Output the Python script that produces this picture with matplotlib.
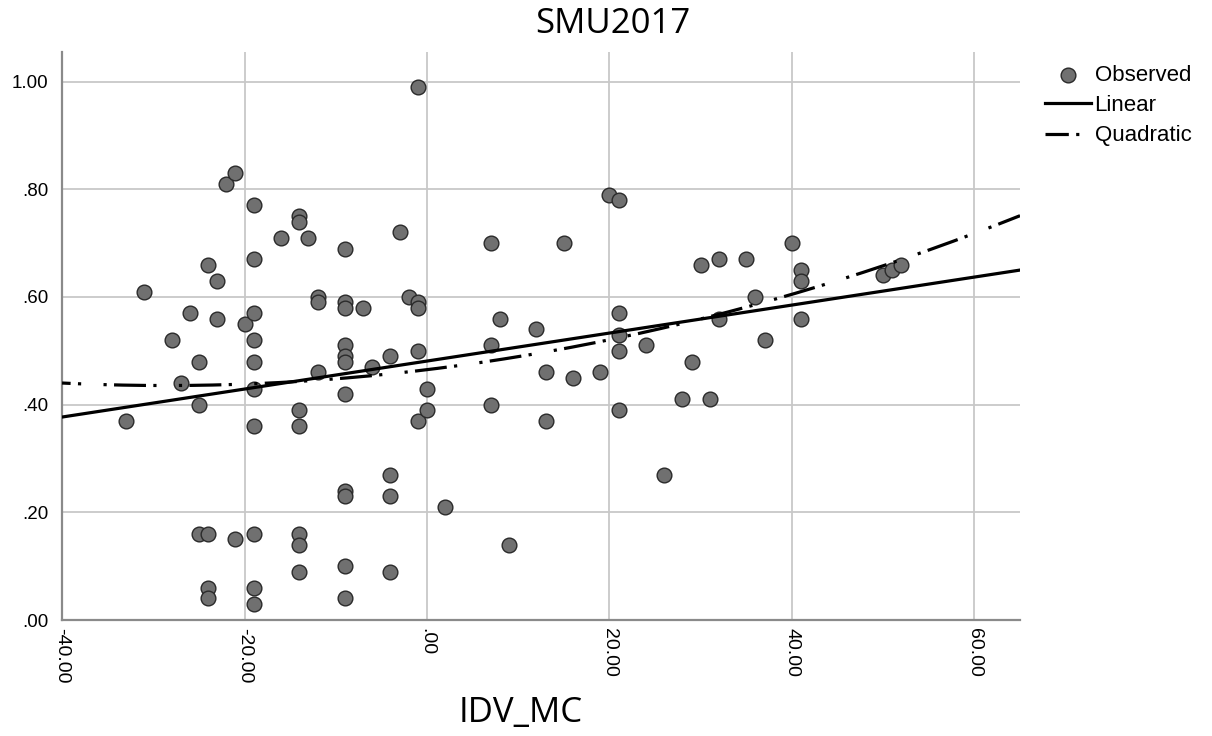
import numpy as np
import matplotlib
matplotlib.use("Agg")
import matplotlib.pyplot as plt

plt.rcParams['font.family'] = ['Liberation Sans', 'DejaVu Sans']
plt.rcParams['axes.unicode_minus'] = False

# observed points (IDV_MC, SMU2017)
idv = [-33, -31, -28, -27, -26, -25, -25, -25, -24, -24, -24, -24, -23, -23, -22, -21, -21, -20,
       -19, -19, -19, -19, -19, -19, -19, -19, -19, -19,
       -16, -14, -14, -14, -14, -14, -14, -14, -13, -12, -12, -12,
       -9, -9, -9, -9, -9, -9, -9, -9, -9, -9, -9,
       -7, -6, -4, -4, -4, -4, -3, -2, -1, -1, -1, -1, -1, 0, 0, 2,
       7, 7, 7, 8, 9, 12, 13, 13, 15, 16, 19, 20, 21, 21, 21, 21, 21,
       24, 26, 28, 29, 30, 31, 32, 32, 35, 36, 37, 40, 41, 41, 41, 50, 51, 52]
smu = [.37, .61, .52, .44, .57, .48, .40, .16, .66, .16, .06, .04, .63, .56, .81, .83, .15, .55,
       .77, .67, .57, .52, .48, .43, .36, .16, .06, .03,
       .71, .75, .74, .39, .36, .16, .14, .09, .71, .60, .59, .46,
       .69, .59, .58, .51, .49, .48, .42, .24, .23, .10, .04,
       .58, .47, .49, .27, .23, .09, .72, .60, .59, .58, .50, .37, .99, .43, .39, .21,
       .70, .51, .40, .56, .14, .54, .46, .37, .70, .45, .46, .79, .78, .57, .53, .50, .39,
       .51, .27, .41, .48, .66, .41, .67, .56, .67, .60, .52, .70, .65, .63, .56, .64, .65, .66]

# fitted curves as shown (intercept, slope[, quadratic term])
lin_coef = [0.481, 0.0026]
quad_coef = [0.465, 0.00206, 0.000036]

x_ticks = [-40, -20, 0, 20, 40, 60]
x_labels = ['-40.00', '-20.00', '.00', '20.00', '40.00', '60.00']
y_ticks = [0, .2, .4, .6, .8, 1.0]
y_labels = ['.00', '.20', '.40', '.60', '.80', '1.00']

fig = plt.figure(figsize=(12.12, 7.36), dpi=100)
ax = fig.add_axes([0.0512, 0.1576, 0.7904, 0.7717])

# drawn right-to-left so the dash pattern lines up with the right edge
xx = np.linspace(65, -40, 300)
ax.scatter(idv, smu, s=112, c='#707070', edgecolors='#2a2a2a', linewidths=1.0,
           zorder=3, label='Observed')
ax.plot(xx, lin_coef[0] + lin_coef[1] * xx, color='black', lw=2.3, zorder=4, label='Linear')
ax.plot(xx, quad_coef[0] + quad_coef[1] * xx + quad_coef[2] * xx ** 2, color='black', lw=2.3,
        linestyle=(6, (1, 2.3, 10, 2.3, 1, 7)), zorder=4, label='Quadratic')

ax.set_xlim(-40, 65)
ax.set_ylim(0, 1.055)
ax.set_xticks(x_ticks)
ax.set_xticklabels(x_labels, rotation=270, fontsize=14)
ax.set_yticks(y_ticks)
ax.set_yticklabels(y_labels, fontsize=13.5)
ax.tick_params(length=0)
ax.tick_params(axis='y', pad=10)
ax.tick_params(axis='x', pad=6)
ax.grid(True, color='#c8c8c8', lw=1.3)
ax.set_axisbelow(True)
for s in ['top', 'right']:
    ax.spines[s].set_visible(False)
for s in ['left', 'bottom']:
    ax.spines[s].set_color('#8a8a8a')
    ax.spines[s].set_linewidth(1.6)

fig.text(0.506, 0.967, 'SMU2017', ha='center', va='center', fontsize=25, family='Open Sans')
fig.text(0.430, 0.031, 'IDV_MC', ha='center', va='center', fontsize=25, family='Open Sans')

ax.legend(loc='upper left', bbox_to_anchor=(1.0094, 1.005), frameon=False, fontsize=16,
          handlelength=2.1, handletextpad=0.15, labelspacing=0.42, borderaxespad=0.3)

fig.savefig('out.png', dpi=100)
